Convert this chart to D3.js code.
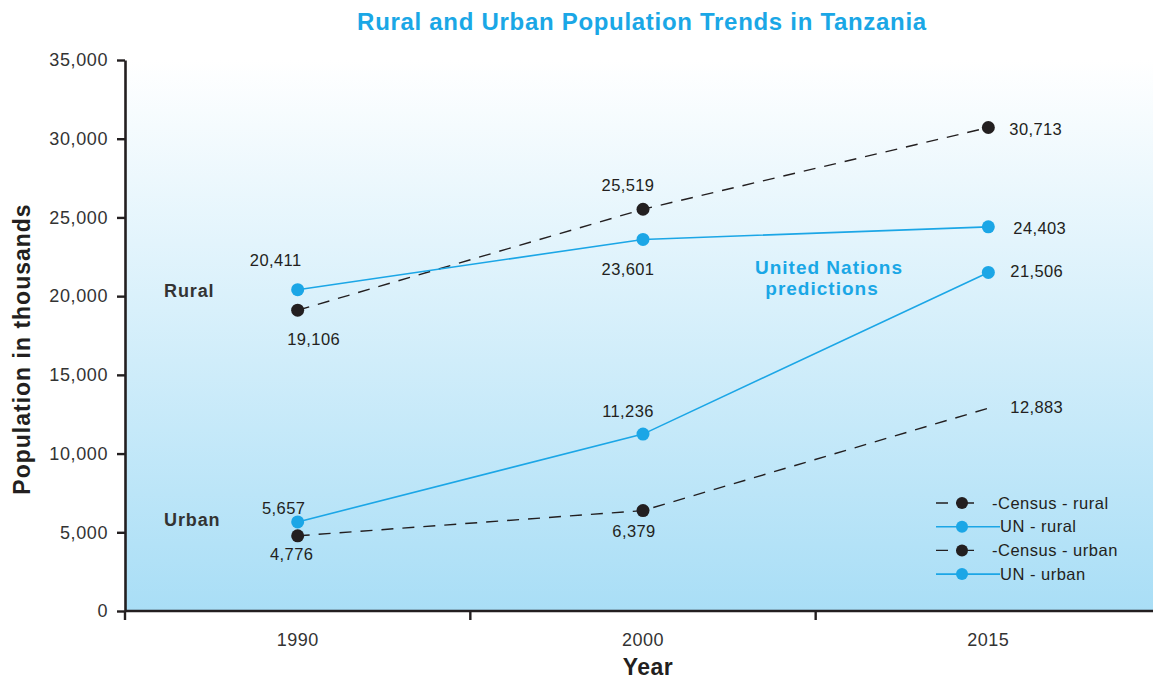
<!DOCTYPE html>
<html>
<head>
<meta charset="utf-8">
<script src="https://cdn.jsdelivr.net/npm/d3@7"></script>
<style>
    body { margin: 0; background: #fff; }
    svg { font-family: "Liberation Sans", Arial, sans-serif; }
</style>
</head>
<body>
<div id="chart"></div>
<script>
// Data (population in thousands)
var years = ["1990", "2000", "2015"];
var censusRural = [19106, 25519, 30713];
var unRural = [20411, 23601, 24403];
var censusUrban = [4776, 6379, 12883];
var unUrban = [5657, 11236, 21506];
var yTicks = [0, 5000, 10000, 15000, 20000, 25000, 30000, 35000];

var width = 1153, height = 682;
var ink = "#231f20", blue = "#1ba6e6";

var svg = d3.select("#chart").append("svg")
    .attr("width", width)
    .attr("height", height);

// scales
var x = d3.scaleBand().domain(years).range([125, 1161]).padding(0);
var y = d3.scaleLinear().domain([0, 35000]).range([611, 60]);

// background gradient
var grad = svg.append("defs").append("linearGradient")
    .attr("id", "bg").attr("x1", 0).attr("y1", 0).attr("x2", 0).attr("y2", 1);
grad.append("stop").attr("offset", "0%").attr("stop-color", "#ffffff");
grad.append("stop").attr("offset", "100%").attr("stop-color", "#a9def6");

svg.append("rect")
    .attr("x", x.range()[0]).attr("y", y(35000))
    .attr("width", width - x.range()[0]).attr("height", y(0) - y(35000))
    .attr("fill", "url(#bg)");

// series definitions (label offsets are [dx, dy] from the point)
var series = [
    {name: "Census - rural", values: censusRural, color: ink, dashed: true, marker: [true, true, true],
        labels: [[16, 35], [-15, -18], [21, 8]], anchor: ["middle", "middle", "start"]},
    {name: "UN - rural", values: unRural, color: blue, dashed: false, marker: [true, true, true],
        labels: [[-22, -24], [-15, 36], [25, 7]], anchor: ["middle", "middle", "start"]},
    {name: "Census - urban", values: censusUrban, color: ink, dashed: true, marker: [true, true, false],
        labels: [[-6, 24], [-9, 26], [22, 5]], anchor: ["middle", "middle", "start"]},
    {name: "UN - urban", values: unUrban, color: blue, dashed: false, marker: [true, true, true],
        labels: [[-14, -8], [-15, -17], [22, 5]], anchor: ["middle", "middle", "start"]}
];

var line = d3.line()
    .x(function(d, i) { return x(years[i]) + x.bandwidth() / 2; })
    .y(function(d) { return y(d); });

series.forEach(function(s) {
    svg.append("path")
        .datum(s.values)
        .attr("d", line)
        .attr("fill", "none")
        .attr("stroke", s.color)
        .attr("stroke-width", s.dashed ? 1.4 : 1.6)
        .attr("stroke-dasharray", s.dashed ? "12,9" : null);
});

series.forEach(function(s) {
    s.values.forEach(function(v, i) {
        var cx = x(years[i]) + x.bandwidth() / 2, cy = y(v);
        if (s.marker[i]) {
            svg.append("circle")
                .attr("cx", cx).attr("cy", cy).attr("r", 6.5)
                .attr("fill", s.color);
        }
        svg.append("text")
            .attr("x", cx + s.labels[i][0])
            .attr("y", cy + s.labels[i][1])
            .attr("text-anchor", s.anchor[i])
            .attr("font-size", 16.5)
            .attr("letter-spacing", 0.4)
            .attr("fill", ink)
            .text(d3.format(",")(v));
    });
});

// y axis
var yAxis = svg.append("g")
    .attr("transform", "translate(" + x.range()[0] + ",0)")
    .call(d3.axisLeft(y).tickValues(yTicks).tickFormat(d3.format(",")).tickSize(8).tickSizeOuter(0).tickPadding(9));
yAxis.select(".domain").attr("stroke", ink).attr("stroke-width", 2.6);
yAxis.selectAll(".tick line").attr("stroke", ink).attr("stroke-width", 2.4);
yAxis.selectAll("text").attr("font-size", 18).attr("letter-spacing", 0.6).attr("fill", "#333");

// x axis: labels at band centers, tick marks at band edges
var xAxis = svg.append("g")
    .attr("transform", "translate(0," + y(0) + ")")
    .call(d3.axisBottom(x).tickSize(0).tickPadding(22).tickSizeOuter(0));
xAxis.select(".domain").attr("stroke", ink).attr("stroke-width", 2.6)
    .attr("d", "M" + x.range()[0] + ",0H" + width);
xAxis.selectAll("text").attr("font-size", 18).attr("letter-spacing", 0.5).attr("fill", "#333");
xAxis.selectAll(".edge")
    .data(years)
    .enter().append("line")
    .attr("class", "edge")
    .attr("x1", function(d) { return x(d); })
    .attr("x2", function(d) { return x(d); })
    .attr("y1", 0).attr("y2", 9)
    .attr("stroke", ink).attr("stroke-width", 2.4);

// titles
svg.append("text")
    .attr("x", 642).attr("y", 30)
    .attr("text-anchor", "middle")
    .attr("font-size", 24).attr("font-weight", "bold").attr("letter-spacing", 0.7)
    .attr("fill", "#1aa7e6")
    .text("Rural and Urban Population Trends in Tanzania");

svg.append("text")
    .attr("transform", "translate(30,349) rotate(-90)")
    .attr("text-anchor", "middle")
    .attr("font-size", 23).attr("font-weight", "bold").attr("letter-spacing", 1)
    .attr("fill", ink)
    .text("Population in thousands");

svg.append("text")
    .attr("x", 648).attr("y", 675)
    .attr("text-anchor", "middle")
    .attr("font-size", 23).attr("font-weight", "bold").attr("letter-spacing", 0.5)
    .attr("fill", ink)
    .text("Year");

// group labels
svg.append("text").attr("x", 164).attr("y", 297)
    .attr("font-size", 18).attr("font-weight", "bold").attr("letter-spacing", 0.9)
    .attr("fill", "#333").text("Rural");
svg.append("text").attr("x", 164).attr("y", 526)
    .attr("font-size", 18).attr("font-weight", "bold").attr("letter-spacing", 0.9)
    .attr("fill", "#333").text("Urban");

var unStyle = function(t) {
    return t.attr("text-anchor", "middle")
        .attr("font-size", 19).attr("font-weight", "bold").attr("letter-spacing", 1)
        .attr("fill", "#1aa7e6");
};
unStyle(svg.append("text").attr("x", 829).attr("y", 274)).text("United Nations");
unStyle(svg.append("text").attr("x", 822).attr("y", 295)).text("predictions");

// legend
var legend = svg.append("g").attr("transform", "translate(936,503)");
series.forEach(function(s, i) {
    var g = legend.append("g").attr("transform", "translate(0," + (i * 23.7) + ")");
    if (s.dashed) {
        g.append("line").attr("x1", 0).attr("x2", 38).attr("y1", 0).attr("y2", 0)
            .attr("stroke", s.color).attr("stroke-width", 1.4)
            .attr("stroke-dasharray", "12,8,18");
    } else {
        g.append("line").attr("x1", 0).attr("x2", 64).attr("y1", 0).attr("y2", 0)
            .attr("stroke", s.color).attr("stroke-width", 1.6);
    }
    g.append("circle").attr("cx", 26).attr("cy", 0).attr("r", 6).attr("fill", s.color);
    g.append("text")
        .attr("x", s.dashed ? 56 : 64).attr("y", 5.5)
        .attr("font-size", 16.5).attr("letter-spacing", 0.5)
        .attr("fill", ink)
        .text(s.dashed ? "-" + s.name : s.name);
});
</script>
</body>
</html>
